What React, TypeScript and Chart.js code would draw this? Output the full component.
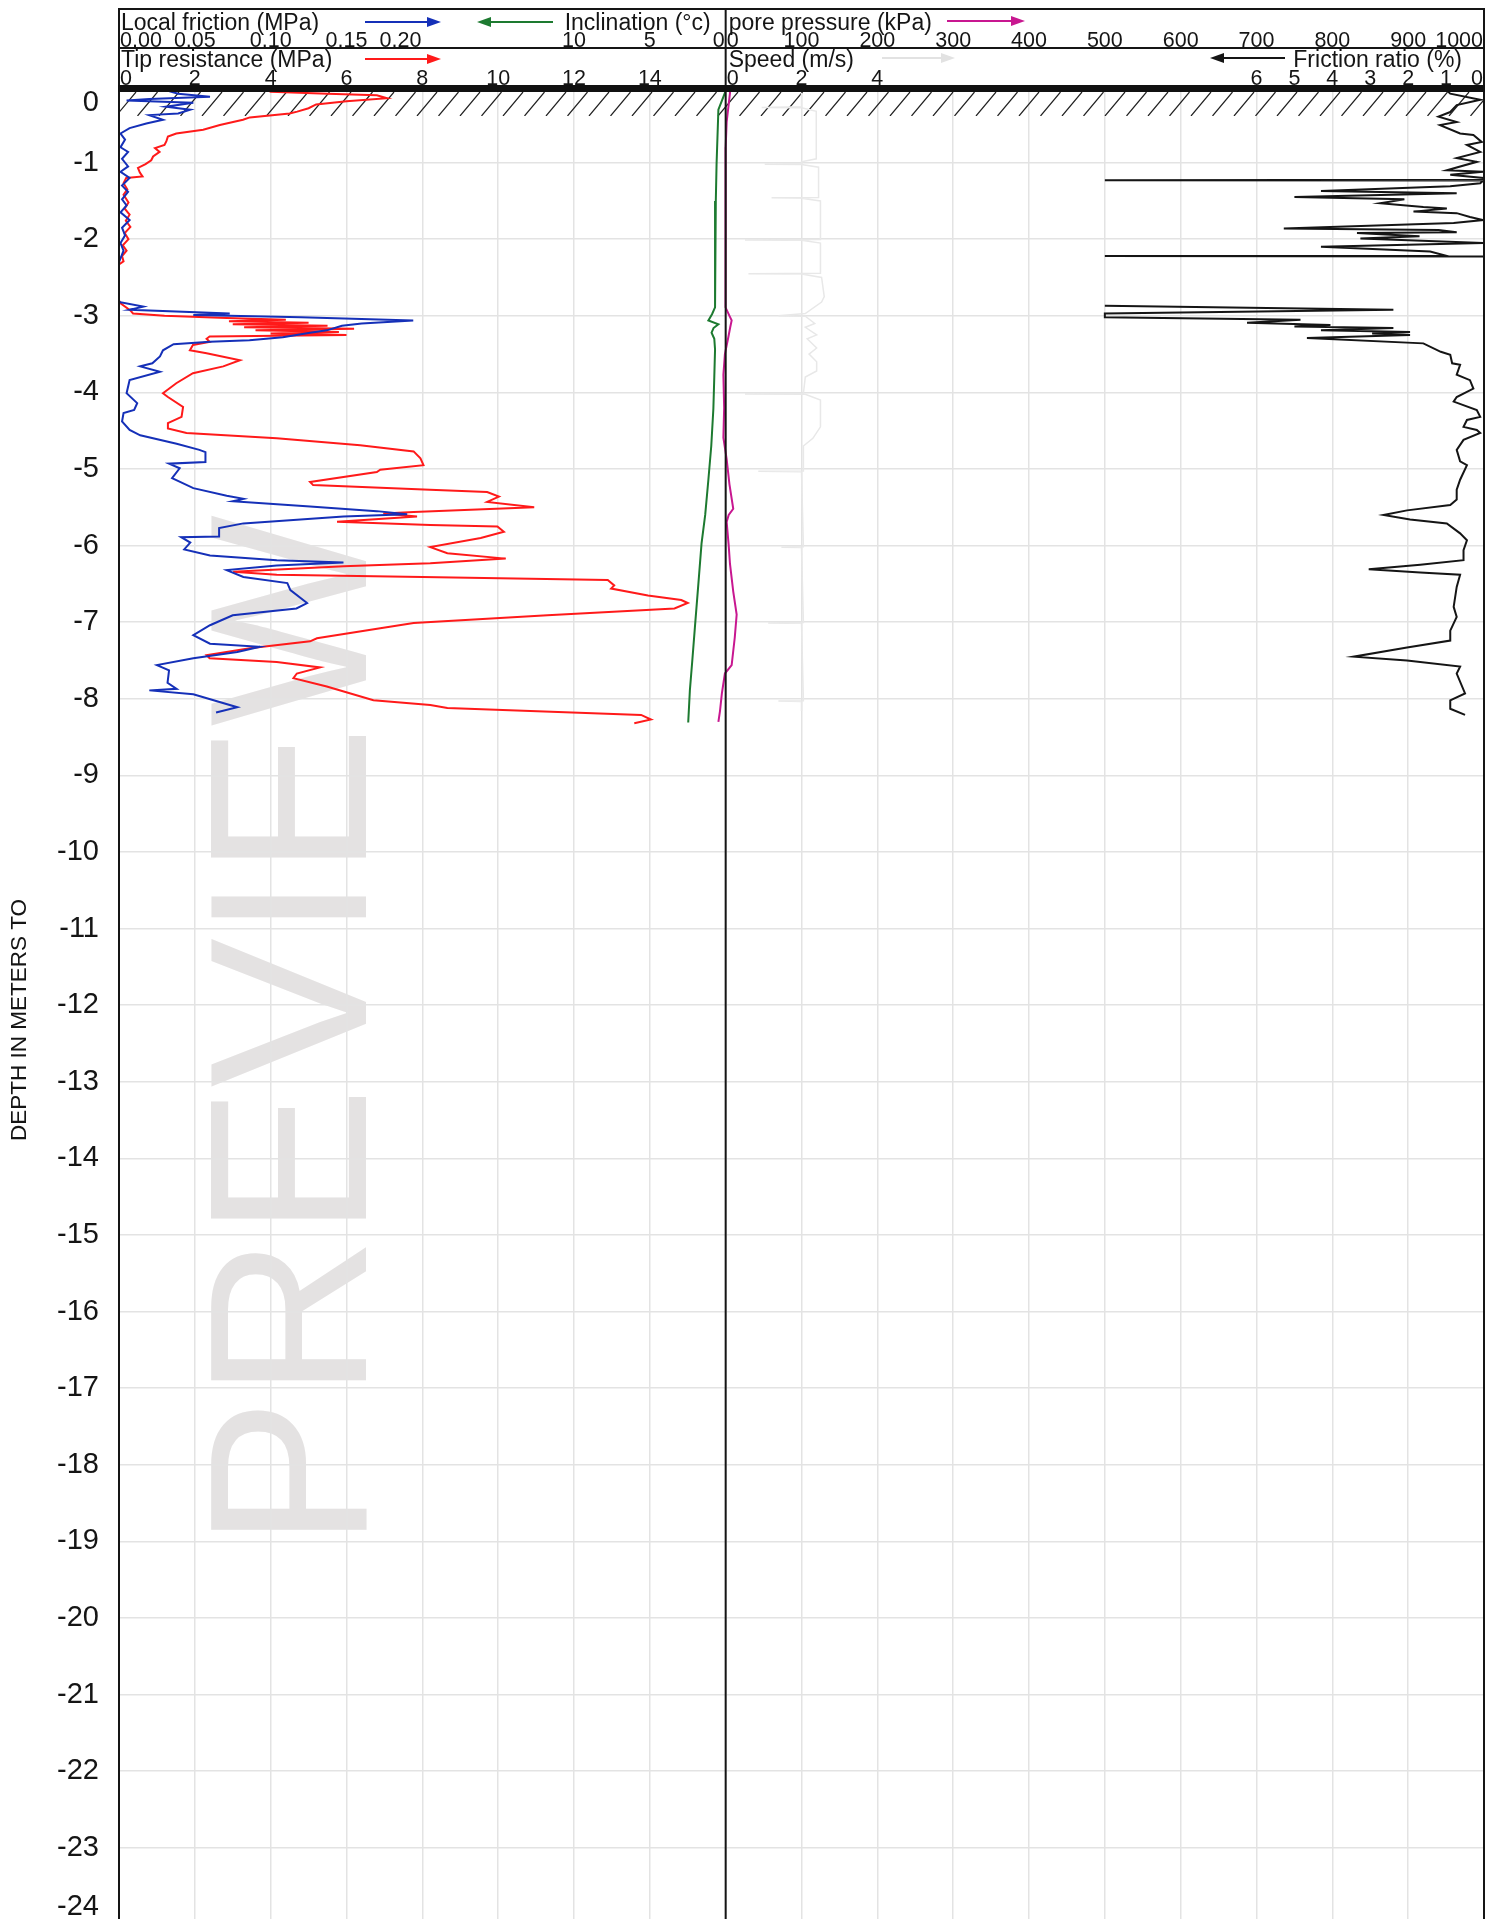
import React, { useEffect, useRef } from 'react';
import { Chart, registerables } from 'chart.js';

Chart.register(...registerables);

const CANVAS_W = 1503;
const CANVAS_H = 1919;

// ---------- data (depth in m, negative downward ; value) ----------
const depthTicks = [0, -1, -2, -3, -4, -5, -6, -7, -8, -9, -10, -11, -12, -13, -14, -15, -16, -17, -18, -19, -20, -21, -22, -23, -24];
const localFrictionTicks = [0, 0.05, 0.1, 0.15, 0.2];
const inclinationTicks = [10, 5, 0];
const tipTicks = [0, 2, 4, 6, 8, 10, 12, 14];
const porePressureTicks = [0, 100, 200, 300, 400, 500, 600, 700, 800, 900, 1000];
const speedTicks = [0, 2, 4];
const frictionRatioTicks = [6, 5, 4, 3, 2, 1, 0];

// [depth m, tip resistance MPa]
const tipResistance: [number, number][] = [
  [-0.05, 3.9], [-0.074, 4.0], [-0.1, 5.5], [-0.12, 6.8], [-0.16, 7.07], [-0.2, 6.0], [-0.24, 5.2], [-0.29, 5.0],
  [-0.335, 4.7], [-0.36, 4.5], [-0.41, 3.45], [-0.44, 3.27], [-0.51, 2.66], [-0.57, 2.22], [-0.62, 1.51], [-0.66, 1.29],
  [-0.72, 1.25], [-0.77, 1.2], [-0.81, 0.95], [-0.86, 1.07], [-0.92, 0.9], [-0.97, 0.85], [-1.02, 0.7], [-1.07, 0.5],
  [-1.13, 0.55], [-1.18, 0.62], [-1.2, 0.19], [-1.27, 0.12], [-1.35, 0.22], [-1.42, 0.12], [-1.52, 0.25], [-1.6, 0.15],
  [-1.68, 0.28], [-1.76, 0.18], [-1.84, 0.3], [-1.92, 0.15], [-2.0, 0.25], [-2.08, 0.1], [-2.15, 0.2], [-2.22, 0.08],
  [-2.29, 0.12], [-2.33, 0.0], [-2.8, 0.0], [-2.84, 0.05], [-2.93, 0.3], [-2.97, 0.37], [-3.0, 1.2], [-3.03, 2.84],
  [-3.05, 4.4], [-3.07, 2.9], [-3.09, 5.0], [-3.11, 3.0], [-3.13, 5.5], [-3.15, 3.3], [-3.17, 6.2], [-3.19, 3.6],
  [-3.21, 5.8], [-3.23, 4.0], [-3.25, 6.0], [-3.27, 2.39], [-3.3, 2.31], [-3.34, 2.39], [-3.38, 1.95], [-3.45, 1.87],
  [-3.49, 2.31], [-3.58, 3.19], [-3.66, 2.75], [-3.75, 1.95], [-3.88, 1.51], [-4.01, 1.16], [-4.06, 1.29], [-4.19, 1.69],
  [-4.32, 1.65], [-4.4, 1.29], [-4.47, 1.29], [-4.53, 1.78], [-4.6, 4.16], [-4.69, 6.36], [-4.77, 7.77], [-4.86, 7.95],
  [-4.95, 8.03], [-5.01, 6.89], [-5.04, 6.8], [-5.17, 5.04], [-5.21, 5.12], [-5.27, 8.2], [-5.3, 9.71], [-5.36, 10.02],
  [-5.43, 9.71], [-5.5, 10.95], [-5.56, 7.77], [-5.58, 6.97], [-5.62, 7.86], [-5.69, 5.75], [-5.73, 8.21], [-5.75, 9.98],
  [-5.82, 10.15], [-5.9, 9.54], [-6.02, 8.21], [-6.1, 8.66], [-6.17, 10.2], [-6.23, 8.21], [-6.27, 5.92], [-6.34, 3.01],
  [-6.38, 4.16], [-6.41, 8.0], [-6.45, 12.89], [-6.52, 13.06], [-6.56, 12.98], [-6.65, 13.95], [-6.71, 14.83], [-6.75, 15.0],
  [-6.82, 14.65], [-6.91, 11.3], [-7.01, 7.77], [-7.08, 6.89], [-7.21, 5.22], [-7.25, 5.04], [-7.34, 3.45], [-7.43, 2.31],
  [-7.47, 2.39], [-7.52, 4.16], [-7.59, 5.3], [-7.67, 4.69], [-7.73, 4.6], [-7.84, 5.48], [-8.02, 6.71], [-8.08, 8.21],
  [-8.12, 8.66], [-8.21, 13.77], [-8.27, 14.03], [-8.32, 13.59],
];

// [depth m, local friction MPa]
const localFriction: [number, number][] = [
  [-0.05, 0.03], [-0.1, 0.039], [-0.14, 0.06], [-0.17, 0.02], [-0.19, 0.005], [-0.22, 0.049], [-0.27, 0.031], [-0.31, 0.047],
  [-0.36, 0.039], [-0.38, 0.02], [-0.44, 0.029], [-0.49, 0.018], [-0.55, 0.007], [-0.62, 0.001], [-0.7, 0.004], [-0.8, 0.001],
  [-0.86, 0.006], [-0.95, 0.002], [-1.05, 0.006], [-1.12, 0.001], [-1.2, 0.007], [-1.3, 0.002], [-1.38, 0.006], [-1.48, 0.002],
  [-1.56, 0.005], [-1.65, 0.001], [-1.75, 0.007], [-1.85, 0.002], [-1.95, 0.004], [-2.05, 0.001], [-2.15, 0.003], [-2.3, 0.0],
  [-2.82, 0.0], [-2.88, 0.016], [-2.92, 0.007], [-2.97, 0.073], [-2.99, 0.049], [-3.02, 0.12], [-3.06, 0.194], [-3.1, 0.16],
  [-3.13, 0.147], [-3.19, 0.137], [-3.22, 0.126], [-3.28, 0.108], [-3.32, 0.086], [-3.34, 0.06], [-3.37, 0.036], [-3.45, 0.029],
  [-3.53, 0.027], [-3.62, 0.022], [-3.66, 0.014], [-3.73, 0.027], [-3.84, 0.007], [-4.01, 0.005], [-4.14, 0.012], [-4.23, 0.01],
  [-4.27, 0.003], [-4.38, 0.002], [-4.49, 0.007], [-4.56, 0.014], [-4.67, 0.038], [-4.75, 0.053], [-4.78, 0.057], [-4.91, 0.057],
  [-4.93, 0.033], [-4.99, 0.04], [-5.12, 0.035], [-5.25, 0.049], [-5.35, 0.071], [-5.39, 0.082], [-5.42, 0.075], [-5.49, 0.126],
  [-5.55, 0.17], [-5.59, 0.19], [-5.62, 0.148], [-5.71, 0.082], [-5.77, 0.066], [-5.88, 0.066], [-5.89, 0.041], [-5.96, 0.047],
  [-6.05, 0.043], [-6.13, 0.06], [-6.19, 0.104], [-6.22, 0.148], [-6.26, 0.104], [-6.32, 0.071], [-6.41, 0.082], [-6.49, 0.111],
  [-6.58, 0.113], [-6.75, 0.124], [-6.82, 0.117], [-6.91, 0.075], [-7.04, 0.06], [-7.17, 0.049], [-7.28, 0.06], [-7.32, 0.093],
  [-7.39, 0.078], [-7.47, 0.049], [-7.56, 0.025], [-7.63, 0.033], [-7.79, 0.032], [-7.87, 0.038], [-7.89, 0.02], [-7.94, 0.049],
  [-8.11, 0.078], [-8.18, 0.064],
];

// [depth m, inclination deg]
const inclination: [number, number][] = [
  [0, 0], [-0.09, 0.05], [-0.31, 0.48], [-1.02, 0.6], [-1.5, 0.65], [-2.11, 0.7], [-2.6, 0.7], [-2.89, 0.7], [-2.98, 0.9],
  [-3.06, 1.14], [-3.11, 0.48], [-3.16, 0.8], [-3.22, 0.93], [-3.3, 0.75], [-3.44, 0.7], [-3.8, 0.75], [-4.21, 0.81],
  [-4.7, 0.95], [-5.14, 1.14], [-5.6, 1.35], [-5.97, 1.59], [-6.5, 1.8], [-7.07, 2.03], [-7.5, 2.2], [-7.89, 2.36], [-8.31, 2.47],
];

// [depth m, pore pressure kPa]
const porePressure: [number, number][] = [
  [0, 5], [-0.09, 5.7], [-0.47, 1.3], [-0.8, 0], [-1.5, -0.5], [-2.2, 0], [-2.89, 0], [-3.0, 5], [-3.06, 7.9], [-3.15, 6],
  [-3.28, 3.5], [-3.5, -1], [-3.77, -3], [-4.2, -2], [-4.59, -3], [-4.87, 1.3], [-5.2, 5], [-5.52, 10], [-5.6, 4], [-5.69, 1.3],
  [-6.0, 4], [-6.24, 5.7], [-6.6, 10], [-6.9, 14.5], [-7.2, 12], [-7.56, 7.9], [-7.67, -1], [-7.93, -5], [-8.16, -7.5], [-8.3, -9.6],
];

// [depth m, speed m/s]
const speed: [number, number][] = [
  [-0.09, 2.0], [-0.27, 2.0], [-0.28, 0.95], [-0.285, 2.0], [-0.33, 2.39], [-0.95, 2.39], [-0.99, 2.0], [-1.015, 2.0],
  [-1.02, 1.03], [-1.025, 2.0], [-1.06, 2.45], [-1.455, 2.45], [-1.46, 1.21], [-1.465, 2.0], [-1.5, 2.5], [-2.005, 2.5],
  [-2.01, 0.51], [-2.015, 2.0], [-2.05, 2.5], [-2.445, 2.5], [-2.45, 0.6], [-2.455, 2.0], [-2.5, 2.53], [-2.75, 2.6],
  [-2.82, 2.53], [-2.97, 2.1], [-3.0, 1.39], [-3.005, 2.1], [-3.1, 2.35], [-3.15, 2.1], [-3.25, 2.4], [-3.3, 2.15],
  [-3.42, 2.4], [-3.5, 2.2], [-3.6, 2.4], [-3.72, 2.4], [-3.8, 2.1], [-4.015, 2.05], [-4.02, 0.51], [-4.025, 2.1],
  [-4.1, 2.5], [-4.45, 2.5], [-4.6, 2.3], [-4.7, 2.05], [-5.025, 2.05], [-5.03, 0.86], [-5.035, 2.0], [-6.015, 2.05],
  [-6.02, 1.47], [-6.025, 2.0], [-7.005, 2.05], [-7.01, 1.12], [-7.015, 2.0], [-8.025, 2.05], [-8.03, 1.39], [-8.035, 2.0],
  [-8.16, 2.0],
];

// [depth m, friction ratio %]  (null = gap in record)
const frictionRatio: ([number, number] | null)[] = [
  [-0.05, 1.0], [-0.1, 0.89], [-0.18, 0.1], [-0.25, 0.72], [-0.34, 0.89], [-0.4, 1.2], [-0.47, 0.72], [-0.51, 1.16],
  [-0.62, 0.63], [-0.64, 0.28], [-0.73, 0.06], [-0.77, 0.45], [-0.86, 0.1], [-0.94, 0.72], [-0.99, 0.19], [-1.1, 0.98],
  [-1.12, 0.02], [-1.16, 0.89], [-1.2, 0.02], [-1.225, 0.02], [-1.23, 10], [-1.235, 0.02], [-1.27, 0.1], [-1.31, 0.89],
  [-1.37, 4.3], [-1.4, 0.72], [-1.45, 5.0], [-1.48, 2.1], [-1.53, 2.74], [-1.58, 1.6], [-1.6, 0.98], [-1.64, 1.86],
  [-1.66, 0.72], [-1.71, 0.37], [-1.75, 0.02], [-1.79, 0.8], [-1.86, 5.28], [-1.88, 1.2], [-1.91, 0.72], [-1.92, 3.35],
  [-1.96, 1.7], [-1.99, 3.26], [-2.05, 0.02], [-2.1, 4.3], [-2.16, 1.42], [-2.215, 1.0], [-2.22, 10], [-2.225, 0],
  null,
  [-2.87, 10], [-2.92, 2.39], [-2.97, 10], [-3.02, 10], [-3.05, 4.84], [-3.09, 6.25], [-3.12, 4.05], [-3.14, 5.0],
  [-3.16, 2.39], [-3.19, 4.3], [-3.21, 1.95], [-3.23, 2.95], [-3.25, 1.95], [-3.29, 4.67], [-3.36, 1.6], [-3.47, 1.14],
  [-3.51, 0.89], [-3.62, 0.84], [-3.64, 0.63], [-3.77, 0.72], [-3.84, 0.37], [-3.95, 0.28], [-4.06, 0.72], [-4.12, 0.8],
  [-4.23, 0.19], [-4.32, 0.1], [-4.36, 0.45], [-4.45, 0.54], [-4.49, 0.19], [-4.53, 0.1], [-4.62, 0.54], [-4.75, 0.72],
  [-4.9, 0.63], [-4.95, 0.45], [-5.14, 0.63], [-5.27, 0.72], [-5.4, 0.72], [-5.47, 0.89], [-5.54, 2.03], [-5.6, 2.65],
  [-5.66, 1.95], [-5.71, 0.98], [-5.84, 0.63], [-5.93, 0.45], [-6.06, 0.54], [-6.19, 0.54], [-6.25, 1.68], [-6.31, 3.04],
  [-6.35, 1.68], [-6.38, 0.63], [-6.54, 0.72], [-6.8, 0.8], [-6.93, 0.72], [-7.11, 0.89], [-7.24, 0.89], [-7.33, 2.03],
  [-7.45, 3.44], [-7.5, 2.03], [-7.58, 0.63], [-7.67, 0.72], [-7.93, 0.5], [-8.02, 0.89], [-8.13, 0.89], [-8.21, 0.5],
];

// ---------- helpers ----------
const FONT = '"Liberation Sans", Arial, Helvetica, sans-serif';
const INK = '#151515';

function toPoints(rows: ([number, number] | null)[]) {
  return rows.map((r) => (r === null ? { x: null, y: null } : { x: r[1], y: r[0] }));
}

function arrow(ctx: CanvasRenderingContext2D, x1: number, x2: number, y: number, color: string, headLeft: boolean) {
  ctx.save();
  ctx.strokeStyle = color;
  ctx.fillStyle = color;
  ctx.lineWidth = 2;
  const head = 14;
  ctx.beginPath();
  if (headLeft) {
    ctx.moveTo(x1 + head - 2, y);
    ctx.lineTo(x2, y);
  } else {
    ctx.moveTo(x1, y);
    ctx.lineTo(x2 - head + 2, y);
  }
  ctx.stroke();
  ctx.beginPath();
  if (headLeft) {
    ctx.moveTo(x1, y);
    ctx.lineTo(x1 + head, y - 5);
    ctx.lineTo(x1 + head, y + 5);
  } else {
    ctx.moveTo(x2, y);
    ctx.lineTo(x2 - head, y - 5);
    ctx.lineTo(x2 - head, y + 5);
  }
  ctx.closePath();
  ctx.fill();
  ctx.restore();
}

function tickRow(
  ctx: CanvasRenderingContext2D,
  scale: any,
  values: number[],
  y: number,
  fmt: (v: number) => string,
  alignFor: (v: number, i: number) => CanvasTextAlign
) {
  values.forEach((v, i) => {
    const px = scale.getPixelForValue(v);
    const al = alignFor(v, i);
    ctx.textAlign = al;
    const dx = al === 'left' ? 1 : al === 'right' ? -1 : 0;
    ctx.fillText(fmt(v), px + dx, y);
  });
}

const cptDecor = {
  id: 'cptDecor',
  beforeDraw(chart: any) {
    const { ctx } = chart;
    // watermark (under the grid)
    ctx.save();
    ctx.translate(366, 1548);
    ctx.rotate(-Math.PI / 2);
    ctx.font = `224px ${FONT}`;
    ctx.fillStyle = '#e4e2e2';
    ctx.textAlign = 'left';
    ctx.textBaseline = 'alphabetic';
    ctx.fillText('PREVIEW', 0, 0);
    ctx.restore();
  },
  beforeDatasetsDraw(chart: any) {
    const { ctx, chartArea: a } = chart;
    // ground hatch
    ctx.save();
    ctx.beginPath();
    ctx.rect(a.left, 92, a.right - a.left, 24);
    ctx.clip();
    ctx.beginPath();
    for (let x = 116 - 21.5; x < a.right + 25; x += 21.5) {
      ctx.moveTo(x, 116);
      ctx.lineTo(x + 20, 92);
    }
    ctx.strokeStyle = '#222';
    ctx.lineWidth = 1.2;
    ctx.stroke();
    ctx.restore();
  },
  afterDraw(chart: any) {
    const { ctx, chartArea: a, scales: s } = chart;
    const xl = a.left;
    const xr = a.right;
    const xd = s.tip.getPixelForValue(16);
    ctx.save();
    // frame lines
    ctx.strokeStyle = INK;
    ctx.lineWidth = 2;
    ctx.beginPath();
    ctx.moveTo(xl, 9); ctx.lineTo(xr, 9);
    ctx.moveTo(xl, 48); ctx.lineTo(xr, 48);
    ctx.moveTo(xl, 8); ctx.lineTo(xl, CANVAS_H);
    ctx.moveTo(xd, 8); ctx.lineTo(xd, CANVAS_H);
    ctx.moveTo(xr, 8); ctx.lineTo(xr, CANVAS_H);
    ctx.stroke();
    // ground line
    ctx.fillStyle = '#111';
    ctx.fillRect(xl - 1, 85, xr - xl + 2, 7);

    // titles
    ctx.fillStyle = INK;
    ctx.textBaseline = 'alphabetic';
    ctx.font = `23px ${FONT}`;
    ctx.textAlign = 'left';
    ctx.fillText('Local friction (MPa)', xl + 2, 30);
    ctx.fillText('Tip resistance (MPa)', xl + 2, 66.5);
    ctx.fillText('pore pressure (kPa)', xd + 3, 30);
    ctx.fillText('Speed (m/s)', xd + 3, 66.5);
    ctx.textAlign = 'right';
    ctx.fillText('Inclination (°c)', xd - 15, 30);
    ctx.fillText('Friction ratio (%)', xr - 22, 66.5);

    // arrows
    arrow(ctx, 365, 441, 22, '#1530b8', false);
    arrow(ctx, 477, 553, 22, '#1d7a30', true);
    arrow(ctx, 365, 441, 59, '#ff1a1a', false);
    arrow(ctx, 947, 1025, 21, '#c81790', false);
    arrow(ctx, 882, 955, 58, '#e2e2e2', false);
    arrow(ctx, 1210, 1285, 58, '#151515', true);

    // tick labels
    ctx.font = `21.5px ${FONT}`;
    ctx.fillStyle = INK;
    const lastF = localFrictionTicks.length - 1;
    tickRow(ctx, s.friction, localFrictionTicks, 46.5, (v) => v.toFixed(2), (v, i) => (i === 0 ? 'left' : i === lastF ? 'right' : 'center'));
    tickRow(ctx, s.incl, inclinationTicks, 46.5, (v) => String(v), (v) => (v === 0 ? 'right' : 'center'));
    tickRow(ctx, s.pore, porePressureTicks, 46.5, (v) => String(v), (v) => (v === 0 ? 'left' : v === 1000 ? 'right' : 'center'));
    tickRow(ctx, s.tip, tipTicks, 85, (v) => String(v), (v) => (v === 0 ? 'left' : 'center'));
    tickRow(ctx, s.speed, speedTicks, 85, (v) => String(v), (v) => (v === 0 ? 'left' : 'center'));
    tickRow(ctx, s.ratio, frictionRatioTicks, 85, (v) => String(v), (v) => (v === 0 ? 'right' : 'center'));

    // depth labels
    ctx.font = `29px ${FONT}`;
    ctx.textAlign = 'right';
    ctx.textBaseline = 'middle';
    depthTicks.forEach((v) => {
      let py = s.y.getPixelForValue(v);
      py = Math.max(a.top + 17, Math.min(CANVAS_H - 12, py));
      ctx.fillText(String(v), 99, py);
    });

    // axis title
    ctx.translate(20, 1020);
    ctx.rotate(-Math.PI / 2);
    ctx.textAlign = 'center';
    ctx.textBaseline = 'middle';
    ctx.font = `22.5px ${FONT}`;
    ctx.fillText('DEPTH IN METERS TO', 0, 0);
    ctx.restore();
  },
};

export default function App() {
  const ref = useRef<HTMLCanvasElement | null>(null);

  useEffect(() => {
    document.body.style.margin = '0';
    document.body.style.overflow = 'hidden';
    const canvas = ref.current;
    if (!canvas) return;
    const pxPerM = 76.6;
    const top = 86;
    const yMin = -(CANVAS_H - top) / pxPerM;

    const line = (label: string, rows: any, axis: string, color: string, width: number) => ({
      label,
      data: toPoints(rows),
      xAxisID: axis,
      yAxisID: 'y',
      borderColor: color,
      backgroundColor: color,
      borderWidth: width,
      showLine: true,
      pointRadius: 0,
      pointHoverRadius: 0,
      tension: 0,
      spanGaps: false,
      fill: false,
    });

    const chart = new Chart(canvas, {
      type: 'scatter',
      data: {
        datasets: [
          line('Local friction', localFriction, 'friction', '#1530b8', 2),
          line('Tip resistance', tipResistance, 'tip', '#ff1a1a', 2),
          line('Inclination', inclination, 'incl', '#1d7a30', 2),
          line('Pore pressure', porePressure, 'pore', '#c81790', 2),
          line('Friction ratio', frictionRatio, 'ratio', '#151515', 2),
          line('Speed', speed, 'speed', '#e8e8e8', 1.5),
        ],
      },
      options: {
        responsive: false,
        animation: false,
        devicePixelRatio: 1,
        layout: { padding: { left: 119, right: CANVAS_W - 1484, top, bottom: 0 } },
        plugins: { legend: { display: false }, tooltip: { enabled: false } },
        events: [],
        scales: {
          x: { type: 'linear', display: false },
          y: {
            type: 'linear',
            min: yMin,
            max: 0,
            display: true,
            ticks: { display: false },
            border: { display: false },
            grid: { color: '#e3e3e3', lineWidth: 1.5, drawTicks: false },
            afterBuildTicks: (sc: any) => {
              sc.ticks = depthTicks.map((v) => ({ value: v }));
            },
          },
          grid: {
            type: 'linear',
            axis: 'x',
            position: 'bottom',
            min: 0,
            max: 18,
            display: true,
            ticks: { display: false, stepSize: 1 },
            border: { display: false },
            grid: { color: '#e3e3e3', lineWidth: 1.5, drawTicks: false },
          },
          tip: { type: 'linear', axis: 'x', position: 'bottom', display: false, min: 0, max: 36 },
          friction: { type: 'linear', axis: 'x', position: 'bottom', display: false, min: 0, max: 0.9 },
          incl: { type: 'linear', axis: 'x', position: 'bottom', display: false, min: -50, max: 40, reverse: true },
          pore: { type: 'linear', axis: 'x', position: 'bottom', display: false, min: -800, max: 1000 },
          speed: { type: 'linear', axis: 'x', position: 'bottom', display: false, min: -16, max: 20 },
          ratio: { type: 'linear', axis: 'x', position: 'bottom', display: false, min: 0, max: 36, reverse: true },
        } as any,
      },
      plugins: [cptDecor],
    });
    return () => chart.destroy();
  }, []);

  return (
    <div style={{ width: CANVAS_W, height: CANVAS_H, background: '#fff' }}>
      <canvas ref={ref} width={CANVAS_W} height={CANVAS_H} style={{ display: 'block', width: CANVAS_W, height: CANVAS_H }} />
    </div>
  );
}
